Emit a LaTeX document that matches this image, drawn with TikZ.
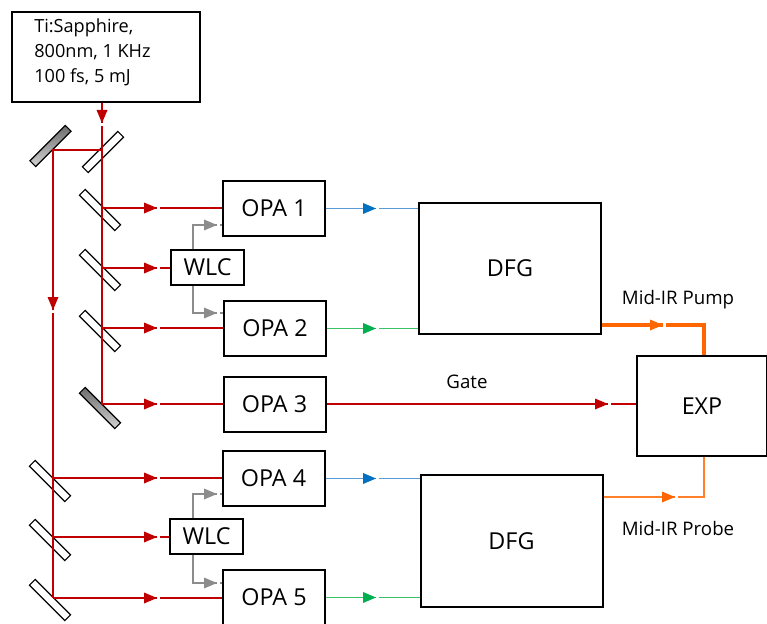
\documentclass[tikz,border=0pt]{standalone}
\usepackage{fontspec}
\setmainfont{Open Sans}
\usetikzlibrary{arrows.meta}
\definecolor{lred}{HTML}{C00000}
\definecolor{lblue}{HTML}{5B9BD5}
\definecolor{dblue}{HTML}{0070C0}
\definecolor{lgreen}{HTML}{3CC36A}
\definecolor{dgreen}{HTML}{00B050}
\definecolor{lorange}{HTML}{FF6600}
\definecolor{porange}{HTML}{FF7F2A}
\definecolor{lgray}{HTML}{8C8C8C}
% right-pointing and down-pointing filled arrowheads, tip at #2
\newcommand\headR[2]{\fill[#1] (#2) -- ++(-13,-5.5) -- ++(0,11) -- cycle;}
\newcommand\headD[2]{\fill[#1] (#2) -- ++(-5.5,-13) -- ++(11,0) -- cycle;}
\begin{document}
\begin{tikzpicture}[x=0.75pt,y=-0.75pt,
  box/.style={draw=black, line width=1.5pt, fill=white, inner sep=0pt, font=\fontsize{17.5}{20}\selectfont},
  opabox/.style={box, minimum width=76.5pt, minimum height=41.25pt},
  wlcbox/.style={box, minimum width=54.75pt, minimum height=26.25pt},
  dfgbox/.style={box, minimum width=136.5pt, minimum height=98.5pt},
  mirror/.style={draw=black, line width=0.9pt, fill=white, minimum width=37.5pt, minimum height=6pt, inner sep=0pt},
  gmirror/.style={mirror, top color=gray!85!black, bottom color=gray!35},
  lab/.style={inner sep=0pt, font=\fontsize{14}{16}\selectfont},
  thinred/.style={draw=lred, line width=1pt},
  thickred/.style={draw=lred, line width=1.8pt}
]
\useasboundingbox (0,0) rectangle (767,624);

% mirrors
\node[gmirror, rotate=45] (m0) at (50.5,146) {};
\node[mirror, rotate=45] (m1) at (103,152) {};
\node[mirror, rotate=-45] (m2) at (100,210) {};
\node[mirror, rotate=-45] (m3) at (100,270) {};
\node[mirror, rotate=-45] (m4) at (100,331) {};
\node[gmirror, rotate=-45] (m5) at (100,408) {};
\node[mirror, rotate=-45] (m6) at (50,481) {};
\node[mirror, rotate=-45] (m7) at (50,540) {};
\node[mirror, rotate=-45] (m8) at (50,600) {};

% boxes
\node[box, minimum width=141pt, minimum height=67.5pt, anchor=north west] (laser) at (11,11) {};
\node[anchor=west, align=left, inner sep=0pt, font=\fontsize{13.6}{18.75}\selectfont] (lasertext) at (34,52) {Ti:Sapphire,\\800nm, 1 KHz\\100 fs, 5 mJ};
\node[opabox] (opa1) at (274,208.5) {OPA 1};
\node[opabox] (opa2) at (275,328.5) {OPA 2};
\node[opabox] (opa3) at (274.5,404) {OPA 3};
\node[opabox] (opa4) at (273.5,478.5) {OPA 4};
\node[opabox] (opa5) at (274,597.5) {OPA 5};
\node[wlcbox] (wlc1) at (207.5,267.5) {WLC};
\node[wlcbox] (wlc2) at (206.5,536.5) {WLC};
\node[dfgbox] (dfg1) at (510,268.5) {DFG};
\node[dfgbox] (dfg2) at (511.5,541) {DFG};
\node[box, minimum width=97.5pt, minimum height=75pt] (exp) at (702,406) {EXP};

% labels
\node[lab] (pumplab) at (678,300) {Mid-IR Pump};
\node[lab] (probelab) at (678,528) {Mid-IR Probe};
\node[lab] (gatelab) at (467,382) {Gate};

% beam coordinates
\coordinate (bs0) at (102,150);
\coordinate (b1) at (102,208);
\coordinate (b2) at (102,268);
\coordinate (b3) at (102,328);
\coordinate (b4) at (102,404);
\coordinate (c0) at (53,150);
\coordinate (c1) at (53,478);
\coordinate (c2) at (53,537);
\coordinate (c3) at (53,598);
\coordinate (g1) at (193,225);
\coordinate (g2) at (193,313);
\coordinate (g3) at (193,494);
\coordinate (g4) at (193,583);
\coordinate (pumpc) at (704,325);
\coordinate (probec) at (704,497);
% arrow tip columns and resume columns
\coordinate (xr) at (157,0);    \coordinate (xr2) at (160,0);
\coordinate (xg) at (217,0);    \coordinate (xg2) at (220,0);
\coordinate (xb) at (376,0);    \coordinate (xb2) at (379,0);
\coordinate (xgate) at (608,0); \coordinate (xgate2) at (611,0);
\coordinate (xpump) at (663,0); \coordinate (xpump2) at (666,0);
\coordinate (xprobe) at (675,0);\coordinate (xprobe2) at (678,0);
\coordinate (tl) at (102,123);  \coordinate (tl2) at (102,126);
\coordinate (tv) at (53,310);   \coordinate (tv2) at (53,313);

% main red beams
\draw[thickred] (laser.south -| bs0) -- (tl);
\draw[thickred] (tl2) -- (b3);
\draw[thinred] (b3) -- (b4);
\draw[thinred] (bs0) -- (c0) -- (tv);
\draw[thinred] (tv2) -- (c3);
\draw[thickred] (b1) -- (xr |- b1);  \draw[thickred] (xr2 |- b1) -- (opa1.west |- b1);
\draw[thinred] (b2) -- (xr |- b2);   \draw[thinred] (xr2 |- b2) -- (wlc1.west |- b2);
\draw[thickred] (b3) -- (xr |- b3);  \draw[thickred] (xr2 |- b3) -- (opa2.west |- b3);
\draw[thinred] (b4) -- (xr |- b4);   \draw[thinred] (xr2 |- b4) -- (opa3.west |- b4);
\draw[thinred] (c1) -- (xr |- c1);   \draw[thinred] (xr2 |- c1) -- (opa4.west |- c1);
\draw[thinred] (c2) -- (xr |- c2);   \draw[thinred] (xr2 |- c2) -- (wlc2.west |- c2);
\draw[thinred] (c3) -- (xr |- c3);   \draw[thinred] (xr2 |- c3) -- (opa5.west |- c3);
\headD{lred}{tl}
\headD{lred}{tv}
\headR{lred}{xr |- b1} \headR{lred}{xr |- b2} \headR{lred}{xr |- b3} \headR{lred}{xr |- b4}
\headR{lred}{xr |- c1} \headR{lred}{xr |- c2} \headR{lred}{xr |- c3}

% white light
\begin{scope}[lgray, line width=1pt]
\draw (wlc1.north -| g1) -- (g1) -- (xg |- g1); \draw (xg2 |- g1) -- (opa1.west |- g1);
\draw (wlc1.south -| g2) -- (g2) -- (xg |- g2); \draw (xg2 |- g2) -- (opa2.west |- g2);
\draw (wlc2.north -| g3) -- (g3) -- (xg |- g3); \draw (xg2 |- g3) -- (opa4.west |- g3);
\draw (wlc2.south -| g4) -- (g4) -- (xg |- g4); \draw (xg2 |- g4) -- (opa5.west |- g4);
\end{scope}
\headR{lgray}{xg |- g1} \headR{lgray}{xg |- g2} \headR{lgray}{xg |- g3} \headR{lgray}{xg |- g4}

% OPA outputs
\draw[lblue, line width=1.1pt] (opa1.east) -- (xb |- opa1.east);
\draw[lblue, line width=1.1pt] (xb2 |- opa1.east) -- (dfg1.west |- opa1.east);
\draw[lgreen, line width=1.1pt] (opa2.east) -- (xb |- opa2.east);
\draw[lgreen, line width=1.1pt] (xb2 |- opa2.east) -- (dfg1.west |- opa2.east);
\draw[lblue, line width=1.1pt] (opa4.east) -- (xb |- opa4.east);
\draw[lblue, line width=1.1pt] (xb2 |- opa4.east) -- (dfg2.west |- opa4.east);
\draw[lgreen, line width=1.1pt] (opa5.east) -- (xb |- opa5.east);
\draw[lgreen, line width=1.1pt] (xb2 |- opa5.east) -- (dfg2.west |- opa5.east);
\headR{dblue}{xb |- opa1.east} \headR{dgreen}{xb |- opa2.east}
\headR{dblue}{xb |- opa4.east} \headR{dgreen}{xb |- opa5.east}

% gate
\draw[thinred] (opa3.east) -- (xgate |- opa3.east);
\draw[thinred] (xgate2 |- opa3.east) -- (exp.west |- opa3.east);
\headR{lred}{xgate |- opa3.east}

% mid-IR
\draw[lorange, line width=2.3pt] (dfg1.east |- pumpc) -- (xpump |- pumpc);
\draw[lorange, line width=2.3pt] (xpump2 |- pumpc) -- (pumpc) -- (exp.north -| pumpc);
\draw[porange, line width=1.1pt] (dfg2.east |- probec) -- (xprobe |- probec);
\draw[porange, line width=1.1pt] (xprobe2 |- probec) -- (probec) -- (exp.south -| probec);
\headR{lorange}{xpump |- pumpc} \headR{lorange}{xprobe |- probec}
\end{tikzpicture}
\end{document}
